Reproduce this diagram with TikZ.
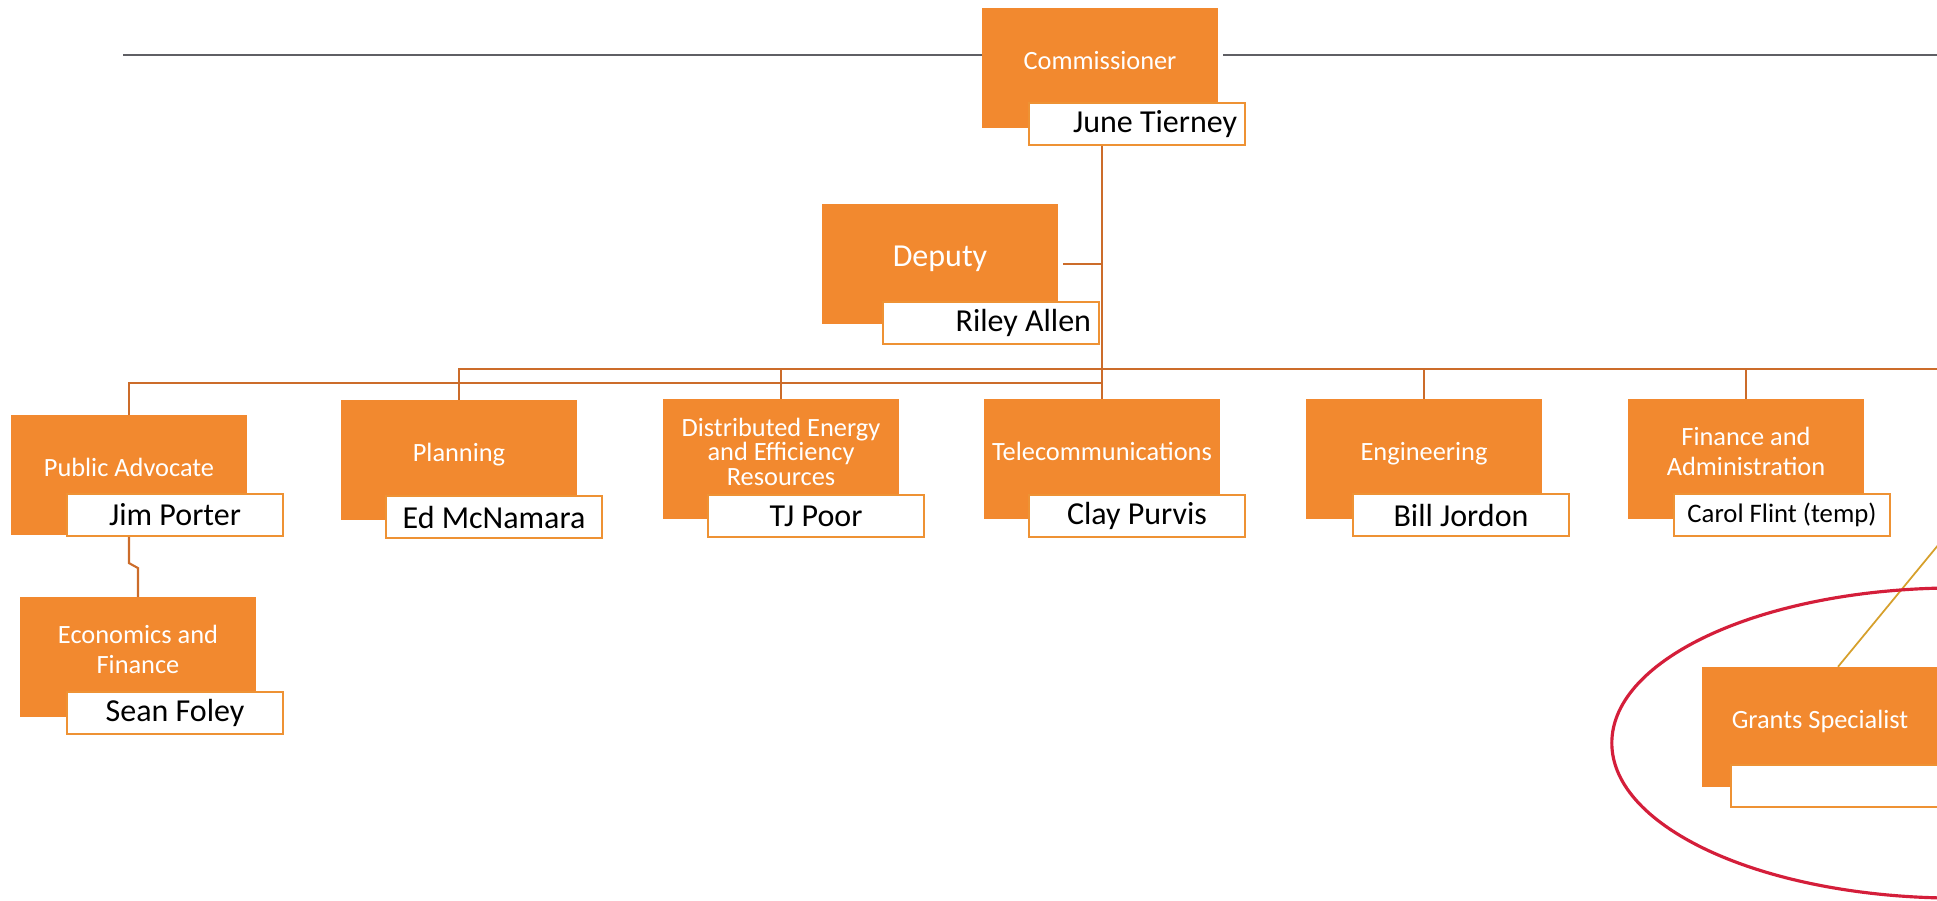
\documentclass[tikz,border=0pt]{standalone}
\usepackage{fontspec}
\setmainfont{Carlito}
\definecolor{boxorange}{RGB}{242,137,47}
\definecolor{rimorange}{RGB}{238,146,52}
\definecolor{linkorange}{RGB}{204,108,42}
\definecolor{rulegray}{RGB}{95,95,100}
\definecolor{ringred}{RGB}{212,30,58}
\definecolor{grantgold}{RGB}{214,160,44}

\begin{document}
\begin{tikzpicture}
        [x=0.01cm, y=-0.01cm,
        unit/.style={rectangle, fill=boxorange, text=white, minimum width=2.35cm, minimum height=1.19cm, align=center, inner sep=1pt, font=\fontsize{7.5}{8.5}\selectfont, execute at end node={\rule[-0.15cm]{0pt}{0pt}}},
        person/.style={rectangle, draw=rimorange, line width=0.6pt, fill=white, minimum width=2.16cm, minimum height=0.42cm, inner sep=1pt, font=\fontsize{9.1}{10}\selectfont},
        personright/.style={person, text width=2.0cm, align=flush right, inner xsep=0.08cm},
        link/.style={linkorange, line width=0.6pt},
        rule/.style={rulegray, line width=0.6pt},
        grant/.style={grantgold, line width=0.5pt},
        ring/.style={ringred, line width=0.9pt}]

        \useasboundingbox (0,0) rectangle (1937,900);
        \clip (0,0) rectangle (1937,900);

        \coordinate (busend) at (1937,369);
        \coordinate (lowbus) at (1102,383);
        \coordinate (rulel) at (123,55);
        \coordinate (ruler) at (1937,55);
        \coordinate (grantsup) at (1990,482);

        % top of the chart
        \node[unit] (comm) at (1100,68) {Commissioner};
        \node[personright] (june) at (1137,124) {June Tierney};
        \node[unit, font=\fontsize{9.1}{10}\selectfont] (dep) at (940,264) {Deputy};
        \node[personright] (riley) at (991,323) {Riley Allen};

        % divisions
        \node[unit] (pa) at (129,475) {Public Advocate};
        \node[person] (jim) at (175,515) {Jim Porter};
        \node[unit] (plan) at (459,460) {Planning};
        \node[person] (ed) at (494,517) {Ed McNamara};
        \node[unit] (deer) at (781,459) {Distributed Energy\\[-1.5pt] and Efficiency\\[-1.5pt] Resources};
        \node[person] (tj) at (816,516) {TJ Poor};
        \node[unit] (tel) at (1102,459) {Telecommunications};
        \node[person] (clay) at (1137,516) {Clay Purvis};
        \node[unit] (eng) at (1424,459) {Engineering};
        \node[person] (bill) at (1461,515) {Bill Jordon};
        \node[unit] (fin) at (1746,459) {Finance and\\ Administration};
        \node[person, font=\fontsize{7.6}{9}\selectfont] (carol) at (1782,515) {Carol Flint (temp)};
        \node[unit] (econ) at (138,657) {Economics and\\ Finance};
        \node[person] (sean) at (175,713) {Sean Foley};
        \node[unit] (grants) at (1820,727) {Grants Specialist};
        \node[person] (blank) at (1839,786) {};

        % grey rule through the commissioner
        \draw[rule] (rulel) -- (rulel -| comm.west);
        \draw[rule] (comm.east |- ruler) ++(5,0) -- (ruler);

        % reporting lines
        \draw[link] (june.south -| tel.north) -- (tel.north);
        \draw[link] (dep.east) ++(5,0) -- (dep.east -| tel.north);
        \draw[link] (plan.north) |- (busend);
        \draw[link] (pa.north) |- (lowbus);
        \draw[link] (deer.north) -- (deer.north |- busend);
        \draw[link] (eng.north) -- (eng.north |- busend);
        \draw[link] (fin.north) -- (fin.north |- busend);
        \draw[link] (jim.south -| pa.north) -- ++(0,26) -- ++(9,5) -- (econ.north);
        \draw[grant] (grants.north) ++(18,0) -- (grantsup);

        % red ring round the new post
        \draw[ring] (1957,743) ellipse [x radius=3.45cm, y radius=1.55cm];

        \end{tikzpicture}
\end{document}
